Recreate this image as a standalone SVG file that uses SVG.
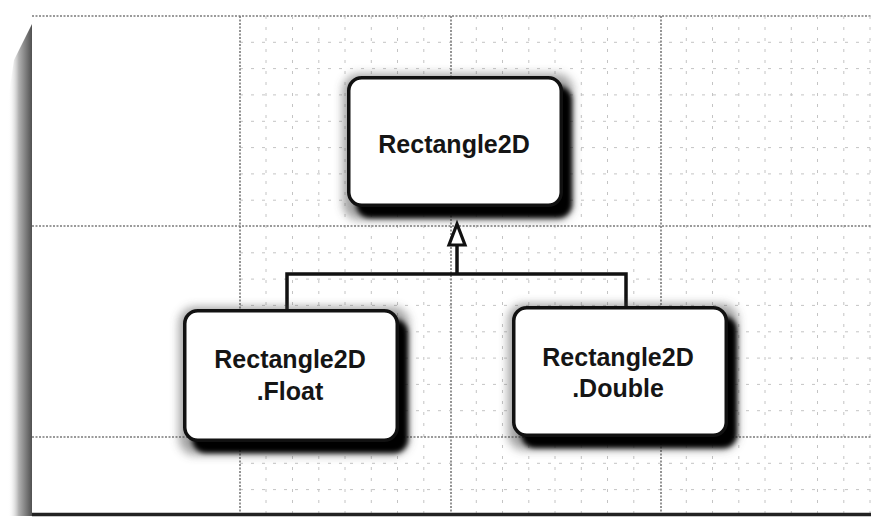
<svg xmlns="http://www.w3.org/2000/svg" width="871" height="519" viewBox="0 0 871 519">
<defs>
<style>
.major{stroke:#7a7a7a;stroke-width:1.6;stroke-dasharray:2 1.5;fill:none}
.minor{stroke:#c4c4c4;stroke-width:1;stroke-dasharray:3 8;fill:none}
.box{fill:#fff;stroke:#111;stroke-width:3.5}
.shadow{fill:#000}
.halo{fill:#444;opacity:0.5}
.label{font-family:"Liberation Sans",Arial,sans-serif;font-weight:bold;font-size:25px;fill:#151515;text-anchor:middle}
.conn{stroke:#111;stroke-width:3.5;fill:none}
</style>
<filter id="blur" x="-20%" y="-20%" width="140%" height="140%"><feGaussianBlur stdDeviation="2.5"/></filter>
<filter id="blur2" x="-20%" y="-20%" width="140%" height="140%"><feGaussianBlur stdDeviation="5"/></filter>
<linearGradient id="edge" x1="0" y1="0" x2="1" y2="0">
<stop offset="0" stop-color="#fff" stop-opacity="0"/>
<stop offset="0.45" stop-color="#b0b0b0"/>
<stop offset="1" stop-color="#505050"/>
</linearGradient>
</defs>
<rect width="871" height="519" fill="#fff"/>
<g id="background">
<path d="M32,24 L32,516 L8,516 L8,100 L14,60 Z" fill="url(#edge)"/>
<line x1="32" y1="16" x2="871" y2="16" class="major" stroke="#999"/>
<g id="minor-grid">
<line class="minor" x1="266" y1="16" x2="266" y2="513"/>
<line class="minor" x1="292.5" y1="16" x2="292.5" y2="513"/>
<line class="minor" x1="318.8" y1="16" x2="318.8" y2="513"/>
<line class="minor" x1="345" y1="16" x2="345" y2="513"/>
<line class="minor" x1="371.3" y1="16" x2="371.3" y2="513"/>
<line class="minor" x1="397.5" y1="16" x2="397.5" y2="513"/>
<line class="minor" x1="423.8" y1="16" x2="423.8" y2="513"/>
<line class="minor" x1="476.3" y1="16" x2="476.3" y2="513"/>
<line class="minor" x1="502.5" y1="16" x2="502.5" y2="513"/>
<line class="minor" x1="528.8" y1="16" x2="528.8" y2="513"/>
<line class="minor" x1="555" y1="16" x2="555" y2="513"/>
<line class="minor" x1="581.3" y1="16" x2="581.3" y2="513"/>
<line class="minor" x1="607.5" y1="16" x2="607.5" y2="513"/>
<line class="minor" x1="633.8" y1="16" x2="633.8" y2="513"/>
<line class="minor" x1="686.3" y1="16" x2="686.3" y2="513"/>
<line class="minor" x1="712.5" y1="16" x2="712.5" y2="513"/>
<line class="minor" x1="738.8" y1="16" x2="738.8" y2="513"/>
<line class="minor" x1="765" y1="16" x2="765" y2="513"/>
<line class="minor" x1="791.3" y1="16" x2="791.3" y2="513"/>
<line class="minor" x1="817.5" y1="16" x2="817.5" y2="513"/>
<line class="minor" x1="843.8" y1="16" x2="843.8" y2="513"/>
<line class="minor" x1="870" y1="16" x2="870" y2="513"/>
<line class="minor" x1="240" y1="42.3" x2="871" y2="42.3"/>
<line class="minor" x1="240" y1="68.6" x2="871" y2="68.6"/>
<line class="minor" x1="240" y1="94.9" x2="871" y2="94.9"/>
<line class="minor" x1="240" y1="121.3" x2="871" y2="121.3"/>
<line class="minor" x1="240" y1="147.6" x2="871" y2="147.6"/>
<line class="minor" x1="240" y1="173.9" x2="871" y2="173.9"/>
<line class="minor" x1="240" y1="200.2" x2="871" y2="200.2"/>
<line class="minor" x1="240" y1="252.8" x2="871" y2="252.8"/>
<line class="minor" x1="240" y1="279.1" x2="871" y2="279.1"/>
<line class="minor" x1="240" y1="305.4" x2="871" y2="305.4"/>
<line class="minor" x1="240" y1="331.8" x2="871" y2="331.8"/>
<line class="minor" x1="240" y1="358.1" x2="871" y2="358.1"/>
<line class="minor" x1="240" y1="384.4" x2="871" y2="384.4"/>
<line class="minor" x1="240" y1="410.7" x2="871" y2="410.7"/>
<line class="minor" x1="240" y1="463.3" x2="871" y2="463.3"/>
<line class="minor" x1="240" y1="489.6" x2="871" y2="489.6"/>
</g>
<g id="major-grid">
<line class="major" x1="240" y1="16" x2="240" y2="513"/>
<line class="major" x1="451" y1="16" x2="451" y2="513"/>
<line class="major" x1="661" y1="16" x2="661" y2="513"/>
<line class="major" x1="32" y1="226" x2="871" y2="226"/>
<line class="major" x1="32" y1="437" x2="871" y2="437"/>
</g>
<line x1="32" y1="514.5" x2="871" y2="514.5" stroke="#222" stroke-width="3.5"/>
</g>
<g id="connectors">
<polyline class="conn" points="287,309 287,274 626,274 626,306"/>
<line class="conn" x1="457" y1="274" x2="457" y2="245"/>
</g>
<g id="node-rectangle2d">
<rect class="halo" x="343" y="74" width="230" height="146" rx="16" filter="url(#blur2)"/>
<rect class="shadow" x="356" y="86" width="216" height="132" rx="14" filter="url(#blur)"/>
<rect class="box" x="348.75" y="77.75" width="212.5" height="127.5" rx="13"/>
<text class="label" x="454" y="153">Rectangle2D</text>
</g>
<polygon points="457,224 449,245 465,245" fill="#fff" stroke="#111" stroke-width="3.2" stroke-linejoin="miter"/>
<g id="node-float">
<rect class="halo" x="179" y="307" width="230" height="148" rx="16" filter="url(#blur2)"/>
<rect class="shadow" x="192" y="319" width="216" height="134" rx="14" filter="url(#blur)"/>
<rect class="box" x="184.75" y="310.75" width="212.5" height="129.5" rx="13"/>
<text class="label" x="290" y="368">Rectangle2D</text>
<text class="label" x="290" y="400">.Float</text>
</g>
<g id="node-double">
<rect class="halo" x="508" y="304" width="230" height="146" rx="16" filter="url(#blur2)"/>
<rect class="shadow" x="521" y="316" width="216" height="132" rx="14" filter="url(#blur)"/>
<rect class="box" x="513.75" y="307.75" width="212.5" height="127.5" rx="13"/>
<text class="label" x="618" y="366">Rectangle2D</text>
<text class="label" x="618" y="397">.Double</text>
</g>
</svg>
